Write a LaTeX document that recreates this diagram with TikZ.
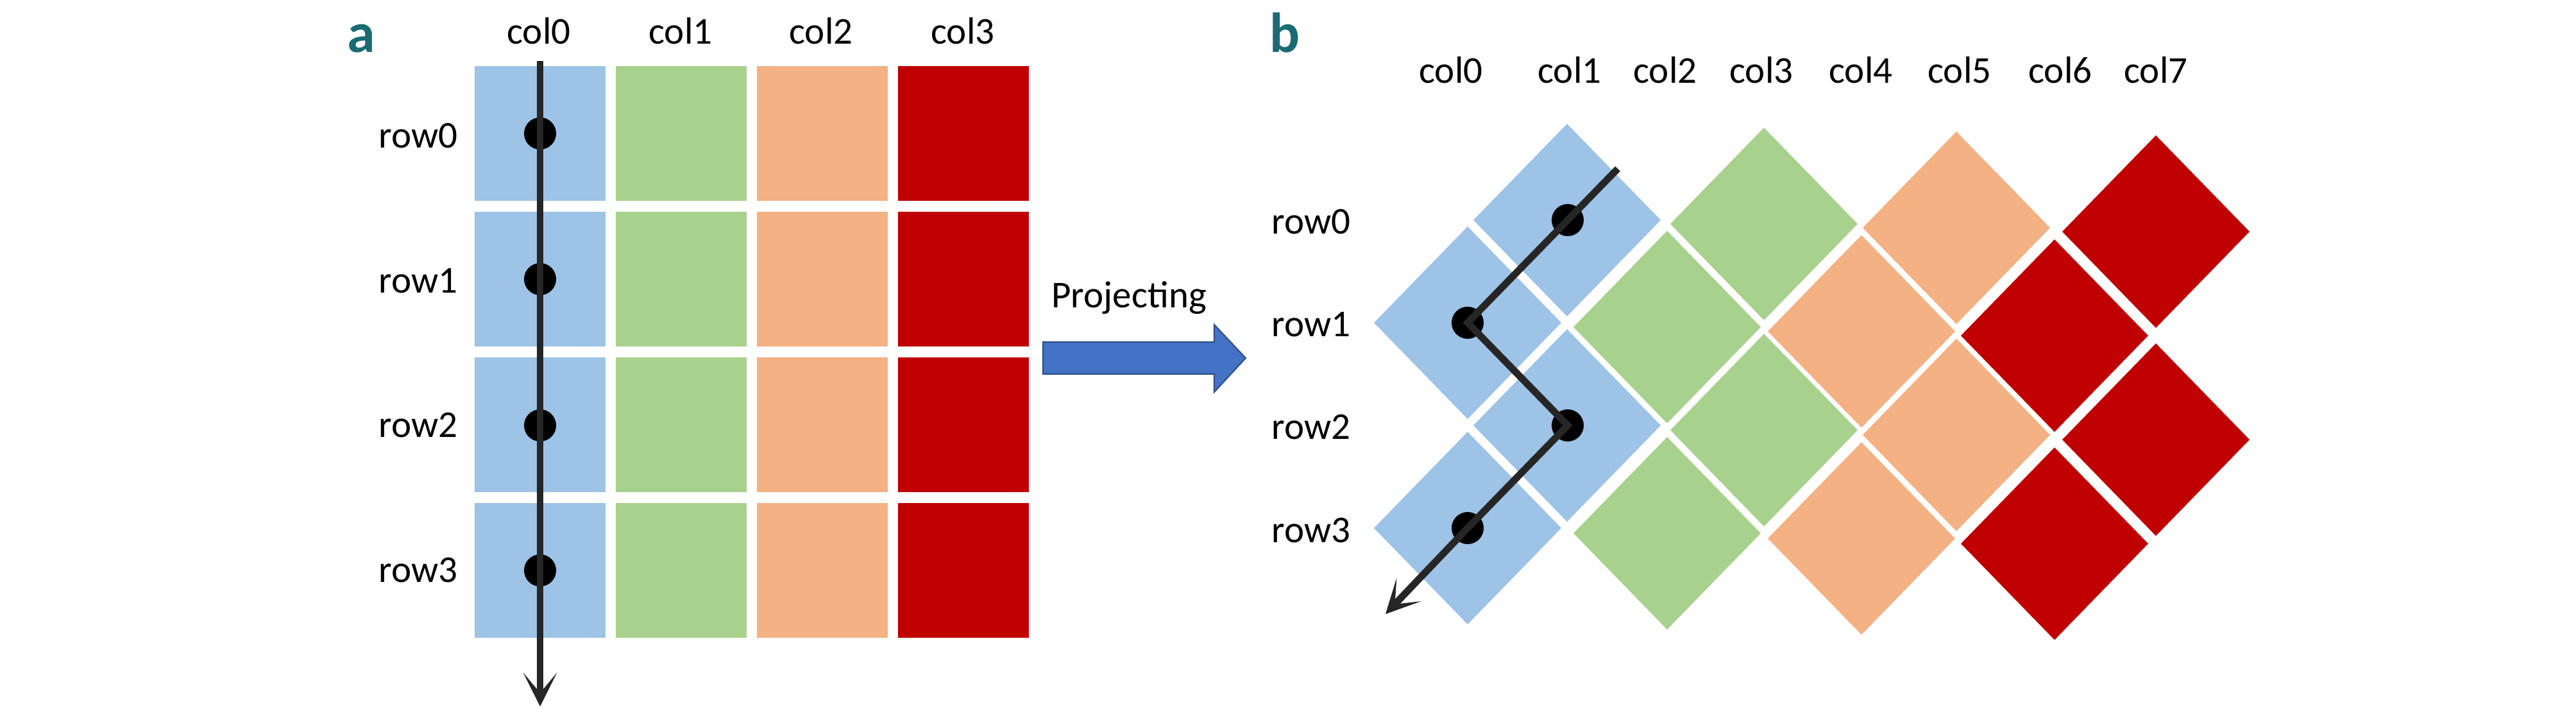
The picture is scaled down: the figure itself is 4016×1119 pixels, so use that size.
\documentclass[tikz,border=0pt]{standalone}
\usepackage{fontspec}
\setmainfont{Carlito}
\usetikzlibrary{arrows.meta,positioning}
\definecolor{cblue}{RGB}{157,195,230}
\definecolor{cgreen}{RGB}{169,209,142}
\definecolor{corange}{RGB}{244,177,131}
\definecolor{cred}{RGB}{192,0,0}
\definecolor{pblue}{RGB}{68,114,196}
\definecolor{tagteal}{RGB}{26,107,114}
\begin{document}
\begin{tikzpicture}[x=0.01cm,y=-0.01cm,
  lbl/.style={font=\fontsize{16.8}{20}\selectfont,inner sep=0pt,anchor=base},
  tag/.style={font=\fontsize{25}{30}\selectfont\bfseries,text=tagteal,inner sep=0pt,anchor=base west},
  scan/.style={line width=3.1pt,draw=black!85,-{Stealth[length=15pt,width=15pt,inset=9pt]}}]
\useasboundingbox (0,0) rectangle (4016,1119);
%
% panel a: the 4x4 block
\foreach \c/\col in {0/cblue,1/cgreen,2/corange,3/cred}
\foreach \r in {0,...,3}
\fill[\col] (740+220*\c,103+227*\r) rectangle ++(204,210);
\node[tag] (taga) at (541,82) {a};
\foreach \c/\x in {0/840,1/1061,2/1280,3/1501} % column heads
\node[lbl] (acol\c) at (\x,69) {col\c};
\foreach \r/\y in {0/231,1/457,2/682,3/907} % row heads
\node[lbl] (arow\r) at (652,\y) {row\r};
\coordinate (Atop) at (842,95);
\coordinate (Aend) at (842,1101);
\foreach \r/\y in {0/208,1/435,2/663,3/889}{
\coordinate (A\r) at (842,\y);
\fill (A\r) circle[radius=0.25cm];
}
\draw[scan] (Atop)--(A0)--(A1)--(A2)--(A3)--(Aend);
%
% the projecting arrow
\fill[pblue,draw=pblue!70!black,line width=0.6pt] (1626,533)--(1893,533)--(1893,506)--(1942,558)--(1893,611)--(1893,583)--(1626,583)--cycle;
\node[lbl] (proj) at (1760,480) {Projecting};
%
% panel b: the diamonds
\foreach \c/\xl/\xr/\col in {0/2288/2443/cblue,1/2599/2750/cgreen,2/2902/3050/corange,3/3203/3361/cred}
\foreach \r in {0,...,3}{
\pgfmathsetmacro\xm{mod(\r,2)==0 ? \xr : \xl}
\pgfmathsetmacro\ym{343+160*\r+(6+0.7*\r)*\c}
\fill[\col] (\xm-146,\ym)--(\xm,\ym-150)--(\xm+146,\ym)--(\xm,\ym+150)--cycle;
}
\node[tag] (tagb) at (1979,82) {b};
\foreach \c/\x in {0/2262,1/2447,2/2596,3/2746,4/2901,5/3055,6/3212,7/3361} % column heads
\node[lbl] (bcol\c) at (\x,130) {col\c};
\foreach \r in {0,...,3} % row heads
\node[lbl] (brow\r) at (2044,365+160*\r) {row\r};
\coordinate (Btop) at (2522,263);
\coordinate (Bend) at (2160,957);
\foreach \r/\x in {0/2444,1/2288,2/2444,3/2288}{
\coordinate (B\r) at (\x,343+160*\r);
\fill (B\r) circle[radius=0.25cm];
}
\draw[scan] (Btop)--(B0)--(B1)--(B2)--(B3)--(Bend);
\end{tikzpicture}
\end{document}
